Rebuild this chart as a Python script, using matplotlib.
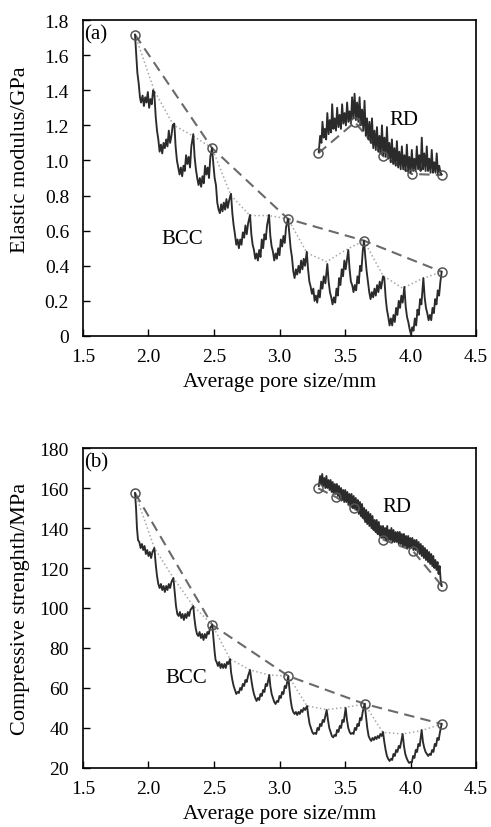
import matplotlib
matplotlib.use("Agg")
import matplotlib.pyplot as plt
from matplotlib.ticker import FormatStrFormatter, FuncFormatter

plt.rcParams['font.family'] = ['Liberation Serif', 'DejaVu Serif']

# ---- (a) elastic modulus, BCC jagged curve ----
bcc_e_x = [1.897, 1.905, 1.915, 1.925, 1.935, 1.943, 1.955, 1.965, 1.975, 1.985, 1.995, 2.005, 2.015, 2.025, 2.035, 2.044,
           2.055, 2.065, 2.075, 2.085, 2.095, 2.105, 2.115, 2.125, 2.135, 2.145, 2.155, 2.165, 2.175, 2.185, 2.197,
           2.207, 2.217, 2.227, 2.237, 2.247, 2.257, 2.267, 2.277, 2.287, 2.297, 2.307, 2.317, 2.327, 2.342,
           2.352, 2.362, 2.372, 2.382, 2.392, 2.402, 2.412, 2.422, 2.432, 2.442, 2.452, 2.462, 2.472, 2.485,
           2.495, 2.505, 2.515, 2.525, 2.535, 2.545, 2.555, 2.565, 2.575, 2.585, 2.595, 2.605, 2.615, 2.625, 2.63,
           2.64, 2.65, 2.66, 2.67, 2.68, 2.69, 2.70, 2.71, 2.72, 2.73, 2.74, 2.75, 2.76, 2.775,
           2.785, 2.795, 2.805, 2.815, 2.825, 2.835, 2.845, 2.855, 2.865, 2.875, 2.885, 2.895, 2.905, 2.92,
           2.93, 2.94, 2.95, 2.96, 2.97, 2.98, 2.99, 3.00, 3.01, 3.02, 3.03, 3.04, 3.05, 3.065,
           3.075, 3.085, 3.095, 3.105, 3.115, 3.125, 3.135, 3.145, 3.155, 3.165, 3.175, 3.185, 3.195, 3.208,
           3.218, 3.228, 3.238, 3.248, 3.258, 3.268, 3.278, 3.288, 3.298, 3.308, 3.318, 3.328, 3.338, 3.35, 3.365,
           3.375, 3.385, 3.395, 3.405, 3.415, 3.425, 3.435, 3.445, 3.455, 3.465, 3.475, 3.485, 3.495, 3.505, 3.525,
           3.535, 3.545, 3.555, 3.565, 3.575, 3.585, 3.595, 3.605, 3.615, 3.625, 3.635, 3.645,
           3.655, 3.665, 3.675, 3.685, 3.695, 3.705, 3.715, 3.725, 3.735, 3.745, 3.755, 3.765, 3.775, 3.79, 3.80,
           3.81, 3.82, 3.83, 3.84, 3.85, 3.86, 3.87, 3.88, 3.89, 3.90, 3.91, 3.92, 3.93, 3.94, 3.953,
           3.963, 3.973, 3.983, 3.993, 4.003, 4.013, 4.023, 4.033, 4.043, 4.053, 4.063, 4.073, 4.083, 4.098,
           4.108, 4.118, 4.128, 4.138, 4.148, 4.158, 4.168, 4.178, 4.188, 4.198, 4.208, 4.218, 4.228, 4.238]
bcc_e_y = [1.717, 1.62, 1.50, 1.44, 1.36, 1.33, 1.37, 1.31, 1.36, 1.33, 1.39, 1.30, 1.35, 1.32, 1.40, 1.39,
           1.25, 1.17, 1.12, 1.05, 1.09, 1.04, 1.10, 1.07, 1.12, 1.08, 1.17, 1.10, 1.14, 1.20, 1.21,
           1.08, 1.00, 0.96, 0.92, 0.96, 0.91, 0.97, 0.94, 1.03, 0.98, 1.02, 0.96, 1.08, 1.15,
           1.02, 0.95, 0.90, 0.86, 0.90, 0.85, 0.91, 0.87, 0.97, 0.92, 0.96, 0.90, 1.02, 1.071,
           0.98, 0.90, 0.86, 0.76, 0.72, 0.70, 0.75, 0.71, 0.76, 0.72, 0.78, 0.73, 0.77, 0.80, 0.81,
           0.70, 0.63, 0.58, 0.52, 0.55, 0.50, 0.55, 0.52, 0.59, 0.56, 0.63, 0.58, 0.64, 0.69,
           0.58, 0.52, 0.49, 0.44, 0.47, 0.43, 0.49, 0.45, 0.55, 0.50, 0.58, 0.55, 0.63, 0.69,
           0.57, 0.51, 0.48, 0.43, 0.47, 0.44, 0.50, 0.46, 0.55, 0.51, 0.57, 0.53, 0.62, 0.667,
           0.58, 0.50, 0.45, 0.37, 0.33, 0.38, 0.35, 0.40, 0.36, 0.43, 0.38, 0.44, 0.40, 0.48,
           0.38, 0.31, 0.28, 0.24, 0.27, 0.20, 0.23, 0.19, 0.26, 0.22, 0.31, 0.27, 0.34, 0.30, 0.41,
           0.31, 0.25, 0.22, 0.18, 0.22, 0.19, 0.27, 0.23, 0.33, 0.29, 0.38, 0.34, 0.43, 0.38, 0.49,
           0.38, 0.31, 0.29, 0.25, 0.29, 0.26, 0.34, 0.30, 0.40, 0.37, 0.48, 0.543,
           0.45, 0.37, 0.31, 0.25, 0.21, 0.25, 0.22, 0.27, 0.23, 0.29, 0.25, 0.31, 0.27, 0.34, 0.33,
           0.22, 0.15, 0.11, 0.06, 0.10, 0.06, 0.12, 0.08, 0.16, 0.12, 0.20, 0.16, 0.23, 0.19, 0.28,
           0.17, 0.11, 0.08, 0.04, 0.01, 0.05, 0.03, 0.10, 0.06, 0.15, 0.12, 0.21, 0.18, 0.33,
           0.22, 0.16, 0.13, 0.09, 0.12, 0.09, 0.16, 0.13, 0.21, 0.18, 0.26, 0.23, 0.31, 0.366]

bcc_e_peak_x = [1.897, 2.044, 2.19, 2.337, 2.485, 2.63, 2.775, 2.92, 3.065, 3.21, 3.36, 3.505, 3.645, 3.79, 3.94, 4.085, 4.238]
bcc_e_peak_y = [1.717, 1.398, 1.202, 1.141, 1.071, 0.80, 0.686, 0.686, 0.667, 0.473, 0.423, 0.49, 0.543, 0.344, 0.272, 0.325, 0.366]
bcc_e_circ_x = [1.897, 2.485, 3.065, 3.645, 4.238]
bcc_e_circ_y = [1.717, 1.071, 0.667, 0.543, 0.366]

# ---- (a) RD ----
rd_e_x = [3.300, 3.310, 3.320, 3.328, 3.338, 3.346, 3.356, 3.365, 3.375, 3.384, 3.394, 3.402, 3.412, 3.421, 3.431,
          3.440, 3.450, 3.459, 3.469, 3.478, 3.488, 3.497, 3.507, 3.516, 3.526, 3.535, 3.545, 3.554, 3.564, 3.573,
          3.583, 3.592, 3.602, 3.611, 3.621, 3.630, 3.640, 3.649, 3.659, 3.668, 3.678, 3.687, 3.697, 3.706, 3.716,
          3.725, 3.735, 3.744, 3.754, 3.763, 3.773, 3.782, 3.792, 3.801, 3.811, 3.820, 3.830, 3.839, 3.849, 3.858,
          3.868, 3.877, 3.887, 3.896, 3.906, 3.915, 3.925, 3.934, 3.944, 3.953, 3.963, 3.972, 3.982, 3.991, 4.001,
          4.010, 4.020, 4.029, 4.039, 4.048, 4.058, 4.067, 4.077, 4.086, 4.096, 4.105, 4.115, 4.124, 4.134, 4.143,
          4.153, 4.162, 4.172, 4.181, 4.191, 4.200, 4.210, 4.219, 4.229, 4.238]
rd_e_y = [1.05, 1.14, 1.10, 1.22, 1.13, 1.18, 1.12, 1.27, 1.15, 1.23, 1.16, 1.32, 1.18, 1.24, 1.17,
          1.30, 1.19, 1.26, 1.18, 1.32, 1.21, 1.27, 1.20, 1.33, 1.22, 1.28, 1.21, 1.36, 1.24, 1.38,
          1.23, 1.33, 1.22, 1.36, 1.20, 1.29, 1.17, 1.34, 1.14, 1.24, 1.12, 1.22, 1.10, 1.24, 1.07,
          1.17, 1.06, 1.19, 1.05, 1.14, 1.04, 1.20, 1.03, 1.13, 1.02, 1.19, 1.01, 1.10, 0.99, 1.12,
          0.98, 1.07, 0.97, 1.11, 0.96, 1.05, 0.95, 1.08, 0.95, 1.03, 0.94, 1.09, 0.94, 1.02, 0.93,
          1.06, 0.94, 1.01, 0.94, 1.08, 0.95, 1.03, 0.94, 1.13, 0.95, 1.04, 0.94, 1.08, 0.94, 1.01,
          0.93, 1.06, 0.93, 0.99, 0.93, 1.04, 0.92, 0.97, 0.93, 0.92]
rd_e_circ_x = [3.296, 3.576, 3.788, 4.009, 4.238]
rd_e_circ_y = [1.041, 1.218, 1.027, 0.923, 0.917]

# ---- (b) compressive strength, BCC ----
bcc_s_x = [1.897, 1.905, 1.912, 1.92, 1.93, 1.94, 1.95, 1.96, 1.97, 1.98, 1.99, 2.00, 2.01, 2.02, 2.03, 2.045,
           2.055, 2.065, 2.075, 2.085, 2.095, 2.105, 2.115, 2.125, 2.135, 2.145, 2.155, 2.165, 2.175, 2.19,
           2.20, 2.21, 2.22, 2.23, 2.24, 2.25, 2.26, 2.27, 2.28, 2.29, 2.30, 2.31, 2.32, 2.342,
           2.35, 2.36, 2.37, 2.38, 2.39, 2.40, 2.41, 2.42, 2.43, 2.44, 2.45, 2.46, 2.47, 2.487,
           2.497, 2.505, 2.512, 2.52, 2.53, 2.54, 2.55, 2.56, 2.57, 2.58, 2.59, 2.60, 2.61, 2.622,
           2.63, 2.64, 2.65, 2.66, 2.67, 2.68, 2.69, 2.70, 2.71, 2.72, 2.73, 2.74, 2.75, 2.76, 2.775,
           2.785, 2.795, 2.805, 2.815, 2.825, 2.835, 2.845, 2.855, 2.865, 2.875, 2.885, 2.895, 2.905, 2.922,
           2.93, 2.94, 2.95, 2.96, 2.97, 2.98, 2.99, 3.00, 3.01, 3.02, 3.03, 3.04, 3.05, 3.067,
           3.075, 3.085, 3.095, 3.105, 3.115, 3.125, 3.135, 3.145, 3.155, 3.165, 3.175, 3.185, 3.195, 3.21,
           3.22, 3.23, 3.24, 3.25, 3.26, 3.27, 3.28, 3.29, 3.30, 3.31, 3.32, 3.33, 3.34, 3.36,
           3.37, 3.38, 3.39, 3.40, 3.41, 3.42, 3.43, 3.44, 3.45, 3.46, 3.47, 3.48, 3.49, 3.505,
           3.515, 3.525, 3.535, 3.545, 3.555, 3.565, 3.575, 3.585, 3.595, 3.605, 3.615, 3.625, 3.635, 3.65,
           3.66, 3.67, 3.68, 3.69, 3.70, 3.71, 3.72, 3.73, 3.74, 3.75, 3.76, 3.77, 3.78, 3.79,
           3.80, 3.81, 3.82, 3.83, 3.84, 3.85, 3.86, 3.87, 3.88, 3.89, 3.90, 3.91, 3.92, 3.94,
           3.95, 3.96, 3.97, 3.98, 3.99, 4.00, 4.01, 4.02, 4.03, 4.04, 4.05, 4.06, 4.07, 4.085,
           4.095, 4.105, 4.115, 4.125, 4.135, 4.145, 4.155, 4.165, 4.175, 4.185, 4.195, 4.205, 4.215, 4.225, 4.238]
bcc_s_y = [157.5, 150, 140, 134, 133, 130, 132, 129, 131, 127, 129, 126, 128, 125, 128, 130,
           122, 116, 112, 110, 112, 109, 111, 108, 111, 109, 112, 110, 113, 115,
           108, 101, 97, 96, 98, 95, 97, 94, 97, 95, 98, 96, 99, 101,
           95, 90, 87, 86, 88, 85, 87, 84, 87, 85, 88, 87, 90, 91.5,
           84, 78, 74, 73, 71, 73, 70, 72, 70, 72, 70, 73, 72, 74.5,
           68, 64, 61, 59, 57, 58, 57.5, 60, 59, 62, 61, 64, 63, 66, 69,
           64, 60, 57, 55, 53.5, 55, 54, 57, 56, 59, 58, 62, 61, 66.5,
           61, 57, 55, 53, 52, 53.5, 53, 56, 55, 58, 57, 61, 60, 66,
           60, 54, 50, 48, 47, 48, 46.5, 48, 47, 49, 48, 50, 49, 51,
           46, 42, 40, 38, 37, 37.5, 37, 40, 39, 42, 41, 44, 43, 49,
           44, 40, 38, 36, 35.3, 36.5, 36, 39, 38, 41, 40, 44, 43, 50,
           44, 40, 38, 37, 37.5, 37, 40, 39, 42, 41, 45, 44, 48, 52,
           46, 40, 36, 34.5, 33.5, 35, 34, 35.5, 34.5, 36, 35, 37, 36, 38,
           33, 29, 26, 24.5, 23.5, 24.5, 24, 27, 26, 29, 28, 31, 30, 37,
           31, 27, 25, 23.5, 22.5, 23, 22.8, 26, 25, 29, 28, 32, 31, 39,
           33, 30, 28, 27, 26, 27, 26.5, 29, 28, 32, 31, 35, 34, 38, 42]

bcc_s_peak_x = [1.897, 2.045, 2.19, 2.342, 2.487, 2.622, 2.775, 2.922, 3.067, 3.21, 3.36, 3.505, 3.65, 3.788, 3.94, 4.085, 4.238]
bcc_s_peak_y = [157.5, 130, 115, 101, 91.5, 74.5, 69, 66.5, 66, 51, 49.2, 50.3, 52, 37.8, 37, 38.7, 42]
bcc_s_circ_x = [1.897, 2.487, 3.067, 3.65, 4.238]
bcc_s_circ_y = [157.5, 91.5, 66, 52, 42]

# ---- (b) RD ----
rd_s_x = [3.300, 3.310, 3.318, 3.326, 3.334, 3.342, 3.350, 3.358, 3.366, 3.374, 3.382, 3.390, 3.398, 3.406, 3.414,
          3.422, 3.430, 3.438, 3.446, 3.454, 3.462, 3.470, 3.478, 3.486, 3.494, 3.502, 3.510, 3.518, 3.526, 3.534,
          3.542, 3.550, 3.558, 3.566, 3.574, 3.582, 3.590, 3.598, 3.606, 3.614, 3.622, 3.630, 3.638, 3.646, 3.654,
          3.662, 3.670, 3.678, 3.686, 3.694, 3.702, 3.710, 3.718, 3.726, 3.734, 3.742, 3.750, 3.758, 3.766, 3.774,
          3.782, 3.790, 3.798, 3.806, 3.814, 3.822, 3.830, 3.838, 3.846, 3.854, 3.862, 3.870, 3.878, 3.886, 3.894,
          3.902, 3.910, 3.918, 3.926, 3.934, 3.942, 3.950, 3.958, 3.966, 3.974, 3.982, 3.990, 3.998, 4.006, 4.014,
          4.022, 4.030, 4.038, 4.046, 4.054, 4.062, 4.070, 4.078, 4.086, 4.094, 4.102, 4.110, 4.118, 4.126, 4.134,
          4.142, 4.150, 4.158, 4.166, 4.174, 4.182, 4.190, 4.198, 4.206, 4.214, 4.222, 4.230, 4.238]
rd_s_y = [161, 166, 162, 167, 161, 165, 160, 166, 160, 164, 159, 164, 158, 163, 157,
          162, 157, 162, 156, 161, 155, 160, 154, 159, 153, 159, 153, 158, 152, 157,
          151, 157, 150, 156, 150, 155, 149, 154, 147, 153, 146, 152, 145, 150, 143,
          149, 142, 148, 141, 147, 140, 146, 139, 144, 138, 144, 137, 143, 136, 141,
          135, 141, 135, 140, 134, 141, 134, 139, 134, 140, 133, 139, 133, 138, 133,
          138, 132, 138, 132, 137, 131, 137, 131, 136, 130, 136, 130, 135, 130, 135,
          129, 134, 129, 134, 128, 133, 127, 132, 126, 131, 125, 130, 124, 129, 123,
          128, 122, 127, 121, 126, 120, 124, 119, 123, 117, 121, 114, 111]
rd_s_circ_x = [3.296, 3.43, 3.571, 3.792, 4.016, 4.238]
rd_s_circ_y = [159.8, 155.5, 149.8, 134.2, 128.7, 111.2]

xticks = [1.5, 2.0, 2.5, 3.0, 3.5, 4.0, 4.5]

line_c = '#2b2b2b'
dash_c = '#6a6a6a'
dot_c = '#a8a8a8'
circ_c = '#555555'
tick_fs = 14
text_fs = 15
xlab_fs = 15.5
ylab_fs = 16


def draw(ax, bx, by, px, py, cx, cy, rx, ry, rcx, rcy):
    ax.plot(px, py, ':', color=dot_c, lw=1.1)
    ax.plot(cx, cy, '--', color=dash_c, lw=1.5, dashes=(5, 3))
    ax.plot(bx, by, '-', color=line_c, lw=1.35)
    ax.plot(cx, cy, 'o', mfc='none', mec=circ_c, ms=6.5, mew=1.1)
    ax.plot(rcx, rcy, '--', color=dash_c, lw=1.5, dashes=(5, 3))
    ax.plot(rx, ry, '-', color=line_c, lw=1.35)
    ax.plot(rcx, rcy, 'o', mfc='none', mec=circ_c, ms=6.5, mew=1.1)
    ax.set_xlim(1.5, 4.5)
    ax.set_xticks(xticks)
    ax.xaxis.set_major_formatter(FormatStrFormatter('%.1f'))
    ax.tick_params(direction='in', length=5, width=1, labelsize=tick_fs)
    ax.tick_params(axis='x', pad=9)
    ax.tick_params(axis='y', pad=10)
    for s in ax.spines.values():
        s.set_linewidth(1.2)
    ax.set_xlabel('Average pore size/mm', fontsize=xlab_fs, labelpad=5)


fig = plt.figure(figsize=(4.91, 8.28), dpi=100)

ax1 = fig.add_axes([0.169, 0.593, 0.8005, 0.3816])
draw(ax1, bcc_e_x, bcc_e_y, bcc_e_peak_x, bcc_e_peak_y, bcc_e_circ_x, bcc_e_circ_y,
     rd_e_x, rd_e_y, rd_e_circ_x, rd_e_circ_y)
ax1.set_ylim(0, 1.8)
ax1.set_yticks([0, 0.2, 0.4, 0.6, 0.8, 1.0, 1.2, 1.4, 1.6, 1.8])
ax1.yaxis.set_major_formatter(FuncFormatter(lambda v, p: '0' if v == 0 else '%.1f' % v))
ax1.set_ylabel('Elastic modulus/GPa', fontsize=ylab_fs)
ax1.yaxis.set_label_coords(-0.135, 0.56)
ax1.text(0.004, 0.988, '(a)', transform=ax1.transAxes, fontsize=text_fs, va='top', ha='left')
ax1.text(2.26, 0.557, 'BCC', fontsize=text_fs, ha='center', va='center')
ax1.text(3.95, 1.236, 'RD', fontsize=text_fs, ha='center', va='center')

ax2 = fig.add_axes([0.169, 0.0713, 0.8005, 0.3864])
draw(ax2, bcc_s_x, bcc_s_y, bcc_s_peak_x, bcc_s_peak_y, bcc_s_circ_x, bcc_s_circ_y,
     rd_s_x, rd_s_y, rd_s_circ_x, rd_s_circ_y)
ax2.set_ylim(20, 180)
ax2.set_yticks([20, 40, 60, 80, 100, 120, 140, 160, 180])
ax2.set_ylabel('Compressive strenghth/MPa', fontsize=ylab_fs)
ax2.yaxis.set_label_coords(-0.135, 0.5)
ax2.text(0.004, 0.988, '(b)', transform=ax2.transAxes, fontsize=text_fs, va='top', ha='left')
ax2.text(2.29, 65.2, 'BCC', fontsize=text_fs, ha='center', va='center')
ax2.text(3.894, 150.8, 'RD', fontsize=text_fs, ha='center', va='center')

fig.savefig('out.png', dpi=100)
